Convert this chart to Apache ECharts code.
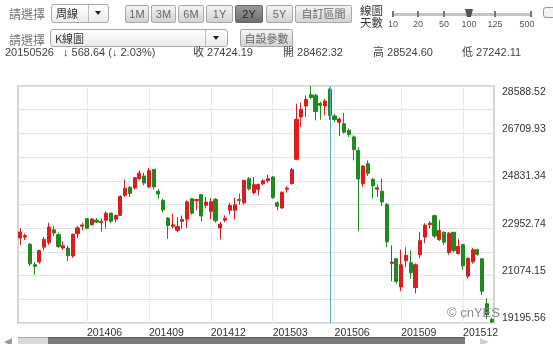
<!DOCTYPE html>
<html>
<head>
<meta charset="utf-8">
<script src="https://cdn.jsdelivr.net/npm/echarts/dist/echarts.min.js"></script>
<style>
html,body{margin:0;padding:0;background:#fff;}
body{width:553px;height:344px;overflow:hidden;position:relative;font-family:"Liberation Sans",Arial,"Noto Sans CJK TC",sans-serif;}
#chart{position:absolute;left:0;top:0;width:553px;height:344px;}
.ui{position:absolute;white-space:nowrap;z-index:5;}
.lbl{font-size:12px;color:#777;font-family:"Noto Sans CJK TC",sans-serif;line-height:14px;}
.sel{border:1px solid #aaa;border-radius:3px;background:linear-gradient(#ffffff,#ececec);box-sizing:border-box;font-size:11px;color:#333;font-family:"Noto Sans CJK TC",sans-serif;}
.sel .t{position:absolute;left:4px;top:1px;line-height:15px;}
.sel .dv{position:absolute;top:0;bottom:0;border-left:1px solid #bbb;}
.sel .ar{position:absolute;top:6px;width:0;height:0;border-left:3px solid transparent;border-right:3px solid transparent;border-top:4px solid #222;}
.btn{border:1px solid #a8a8a8;border-radius:2px;background:linear-gradient(#f4f4f4,#d2d2d2);box-sizing:border-box;height:18px;font-size:11px;color:#666;text-align:center;line-height:16px;font-family:"Liberation Sans","Noto Sans CJK TC",sans-serif;}
.btn.on{background:linear-gradient(#9a9a9a,#6e6e6e);color:#222;border-color:#666;}
.info{font-size:11px;color:#444;line-height:13px;font-family:"Liberation Sans","Noto Sans CJK TC",sans-serif;}
.tick{position:absolute;width:2px;height:6px;background:#777;top:11px;}
.tl{position:absolute;font-size:9px;color:#555;top:19px;line-height:10px;transform:translateX(-50%);}
</style>
</head>
<body>
<div id="chart"></div>

<!-- control bar -->
<div class="ui lbl" style="left:9px;top:7px;">請選擇</div>
<div class="ui sel" style="left:51px;top:4px;width:58px;height:19px;"><span class="t">周線</span><span class="dv" style="left:36px"></span><span class="ar" style="left:43px"></span></div>
<div class="ui btn" style="left:125px;top:5px;width:24px;">1M</div>
<div class="ui btn" style="left:151px;top:5px;width:25px;">3M</div>
<div class="ui btn" style="left:178px;top:5px;width:26px;">6M</div>
<div class="ui btn" style="left:206px;top:5px;width:27px;">1Y</div>
<div class="ui btn on" style="left:235px;top:5px;width:28px;">2Y</div>
<div class="ui btn" style="left:266px;top:5px;width:27px;">5Y</div>
<div class="ui btn" style="left:295px;top:5px;width:57px;">自訂區間</div>
<div class="ui" style="left:360px;top:4px;font-size:11.5px;color:#333;line-height:12px;font-family:'Noto Sans CJK TC',sans-serif;">線圖<br>天數</div>
<div class="ui" style="left:392px;top:13px;width:140px;height:3px;background:#c4c4c4;"></div>
<div class="ui" style="left:0;top:0;width:553px;height:30px;">
  <div class="tick" style="left:392px"></div><div class="tick" style="left:417px"></div><div class="tick" style="left:443px"></div>
  <div class="tick" style="left:494px"></div><div class="tick" style="left:530px"></div>
  <div style="position:absolute;left:465px;top:9px;width:8px;height:8px;background:#555;clip-path:polygon(0 0,100% 0,75% 100%,25% 100%);"></div>
  <div class="tl" style="left:393px">10</div><div class="tl" style="left:418px">20</div><div class="tl" style="left:444px">50</div>
  <div class="tl" style="left:469px">100</div><div class="tl" style="left:495px">125</div><div class="tl" style="left:527px">500</div>
  <div style="position:absolute;left:543px;top:7px;width:12px;height:9px;border:1px solid #999;border-radius:3px;background:#f3f3f3;"></div>
</div>
<div class="ui lbl" style="left:9px;top:33px;">請選擇</div>
<div class="ui sel" style="left:50px;top:29px;width:178px;height:18px;"><span class="t">K線圖</span><span class="dv" style="left:154px"></span><span class="ar" style="left:162px"></span></div>
<div class="ui btn" style="left:240px;top:29px;width:53px;font-family:'Noto Sans CJK TC',sans-serif;">自設參數</div>

<div class="ui info" id="hDate" style="left:5px;top:46px;"></div>
<div class="ui info" id="hChg" style="left:63px;top:46px;"></div>
<div class="ui info" id="hClose" style="left:193px;top:46px;"></div>
<div class="ui info" id="hOpen" style="left:283px;top:46px;"></div>
<div class="ui info" id="hHigh" style="left:373px;top:46px;"></div>
<div class="ui info" id="hLow" style="left:462px;top:46px;"></div>

<!-- navigator strip -->
<div class="ui" style="left:18px;top:337px;width:447px;height:7px;background:#7b7b7b;border-top:1px solid #5e5e5e;box-sizing:border-box;"></div>
<div class="ui" style="left:18px;top:337px;width:30px;height:7px;background:#d9d9d9;border-top:1px solid #aaa;box-sizing:border-box;"></div>
<div class="ui" style="left:4px;top:338px;width:0;height:0;border-top:4px solid transparent;border-bottom:4px solid transparent;border-right:8px solid #9a9a9a;"></div>
<div class="ui" style="left:480px;top:338px;width:0;height:0;border-top:4px solid transparent;border-bottom:4px solid transparent;border-left:9px solid #d0d0d0;"></div>

<script>
// ---- data (weekly, Hang Seng Index) ----
const categories = [
'20140224','20140303','20140310','20140317','20140324','20140331','20140407','20140414','20140422','20140428',
'20140505','20140512','20140519','20140526','20140603','20140609','20140616','20140623','20140630','20140707',
'20140714','20140721','20140728','20140804','20140811','20140818','20140825','20140901','20140908','20140915',
'20140922','20140929','20141006','20141013','20141020','20141027','20141103','20141110','20141117','20141124',
'20141201','20141208','20141215','20141222','20141229','20150105','20150112','20150119','20150126','20150202',
'20150209','20150216','20150223','20150302','20150309','20150316','20150323','20150330','20150407','20150413',
'20150420','20150427','20150504','20150511','20150518','20150526','20150601','20150608','20150615','20150622',
'20150629','20150706','20150713','20150720','20150727','20150803','20150810','20150817','20150824','20150831',
'20150907','20150914','20150921','20150929','20151005','20151012','20151019','20151026','20151102','20151109',
'20151116','20151123','20151130','20151207','20151214','20151221','20151229','20160104','20160111','20160118'
];
const opens = [
22564,22600,22314,21508,21613,22200,22377,22893,22695,22168,
22168,21850,22735,23030,23330,23085,23276,23170,23266,23553,
23306,23460,24255,24573,24545,24915,25020,24585,25287,24414,
24057,23356,23030,22868,23226,23306,24122,24043,24280,23860,
23622,24097,22960,23266,23660,23660,24097,23963,24915,24360,
24494,24715,24835,24982,23963,23753,24494,24717,25682,27359,
27795,28246,28219,27900,27795,28462.32,27400,27150,27090,26830,
26570,26040,24717,25510,24890,24500,24414,23900,21560,21745,
20620,21660,21585,20600,21900,22600,23100,23450,22500,22790,
21990,22790,21950,22300,21050,21620,22100,21740,19960,19340
];
const closes = [
22802,22660,21540,21436,22065,22510,23003,22760,22223,22260,
21862,22712,22965,23081,22951,23319,23194,23221,23546,23233,
23454,24216,24532,24331,24954,25130,24742,25240,24595,24306,
23678,23064,23088,23023,23302,23998,23550,24087,23437,23987,
24002,23249,23116,23349,23857,23883,24043,24850,24507,24679,
24682,24832,24915,24164,23823,24375,24545,25275,27272,27653,
28061,28133,27577,27822,27992.83,27424.19,27260,27281,26760,26664,
26064,24901,25415,25128,24636,24552,23991,22410,21612,20841,
21504,21880,21186,21506,22458,23067,23151,22640,22867,22396,
22754,22068,22235,21464,21755,22100,21914,20453,19520,19237
];
const lows = [
22287,22485,21454,21110,21545,22076,22290,22640,22168,22076,
21652,21771,22564,22868,22908,23060,23144,22830,22934,23145,
23200,23435,24188,24188,24494,24850,24653,24545,24494,24122,
23566,22536,22934,22802,22934,22960,23487,23660,23226,23725,
23306,23170,22513,23200,23487,23306,23883,23883,24454,24280,
24255,24650,24755,24122,23660,23727,24360,24680,25642,26963,
27359,28060,27228,27250,27426,27242.11,27180,26600,26700,26570,
25640,22836,24585,25020,24122,24190,23832,22200,20848,20753,
20460,21410,20950,20368,21760,22360,22950,22560,22440,22290,
21900,21990,21900,21310,20950,21550,21860,20300,19350,19195.56
];
const highs = [
22960,22735,22366,21613,22100,22600,23170,23040,22774,22432,
22274,22735,23040,23170,23356,23356,23356,23330,23620,23566,
23500,24255,24890,24625,24982,25247,25153,25340,25287,24494,
24122,23395,23527,23395,23461,24057,24149,24122,24320,24188,
24149,24149,23197,23461,23963,24149,24320,24870,24982,24982,
24717,24890,25073,25020,24017,24414,24625,25340,27886,27926,
28219,28588.52,28285,27960,28085,28524.60,27480,27340,27530,26900,
26635,26170,25445,25640,24942,24680,24915,23950,22275,21770,
22100,22200,22070,21560,22800,23150,23230,23490,23270,22830,
22800,22800,22530,22340,21800,22170,22140,21760,20180,19400
];
const xTickLabels = ['201406','201409','201412','201503','201506','201509','201512'];
const yTickLabels = ['19195.56','21074.15','22952.74','24831.34','26709.93','28588.52'];
const crossDate = '20150526';

// ---- header (values of the highlighted week) ----
const ci = categories.indexOf(crossDate);
const chg = closes[ci] - closes[ci-1];
const arrow = chg < 0 ? '↓' : '↑';
const pct = Math.abs(chg) / closes[ci-1] * 100;
document.getElementById('hDate').textContent = crossDate;
document.getElementById('hChg').textContent = arrow + ' ' + Math.abs(chg).toFixed(2) + ' (' + arrow + ' ' + pct.toFixed(2) + '%)';
document.getElementById('hClose').textContent = '收 ' + closes[ci].toFixed(2);
document.getElementById('hOpen').textContent = '開 ' + opens[ci].toFixed(2);
document.getElementById('hHigh').textContent = '高 ' + highs[ci].toFixed(2);
document.getElementById('hLow').textContent = '低 ' + lows[ci].toFixed(2);

// ---- axis helpers ----
const labelIdx = new Set();
xTickLabels.forEach(m => {
  const k = categories.findIndex(c => c.slice(0,6) === m);
  if (k >= 0) labelIdx.add(k);
});
const yMin = parseFloat(yTickLabels[0]);
const yMax = parseFloat(yTickLabels[yTickLabels.length-1]);
const yStep = (yMax - yMin) / ((yTickLabels.length - 1) * 2);

const FONT = '"Liberation Sans", Arial, sans-serif';
const chart = echarts.init(document.getElementById('chart'), null, {renderer: 'canvas'});
chart.setOption({
  animation: false,
  backgroundColor: '#ffffff',
  grid: {left: 18, top: 86, width: 476, height: 237, show: true, borderColor: '#d4d4d4', borderWidth: 2,
         backgroundColor: 'transparent', containLabel: false, outerBoundsMode: 'none'},
  xAxis: {
    type: 'category', data: categories, boundaryGap: true,
    axisLine: {show: false}, axisTick: {show: false},
    axisLabel: {interval: (i) => labelIdx.has(i), formatter: v => v.slice(0,6), align: 'left', margin: 5,
                color: '#333', fontSize: 10.5, fontFamily: FONT, hideOverlap: false},
    splitLine: {show: true, interval: (i) => labelIdx.has(i), alignWithLabel: true, lineStyle: {color: '#e9e9e9', width: 1}}
  },
  yAxis: {
    type: 'value', position: 'right', min: yMin, max: yMax, interval: yStep,
    axisLine: {show: false}, axisTick: {show: false},
    splitLine: {show: true, lineStyle: {color: '#e2e2e2', width: 1}},
    axisLabel: {
      margin: 8, verticalAlign: 'middle', color: '#333', fontSize: 10.5, fontFamily: FONT,
      formatter: v => {
        const k = Math.round((v - yMin) / yStep);
        if (k % 2) return '';
        const s = yTickLabels[k/2];
        return k === (yTickLabels.length - 1) * 2 ? '{t|' + s + '}' : '{n|' + s + '}';
      },
      rich: {
        n: {padding: [0,0,9,0], color: '#333', fontSize: 10.5, fontFamily: FONT},
        t: {padding: [13,0,0,0], color: '#333', fontSize: 10.5, fontFamily: FONT}
      }
    }
  },
  graphic: [{type: 'text', left: 447, top: 307, z: 10,
             style: {text: '© cnYES', fill: '#8c8c8c', font: '13px "Liberation Sans", Arial, sans-serif'}}],
  series: [{
    type: 'candlestick',
    data: categories.map((c, i) => [opens[i], closes[i], lows[i], highs[i]]),
    barWidth: '76%',
    itemStyle: {color: '#dc1d1d', color0: '#1f8b1f', borderColor: '#dc1d1d', borderColor0: '#1f8b1f', borderWidth: 1},
    markLine: {silent: true, symbol: ['none','none'], label: {show: false}, animation: false,
               lineStyle: {color: '#56abcb', width: 1, type: 'solid'},
               emphasis: {disabled: true},
               data: [{xAxis: crossDate}]}
  }]
});
</script>
</body>
</html>
